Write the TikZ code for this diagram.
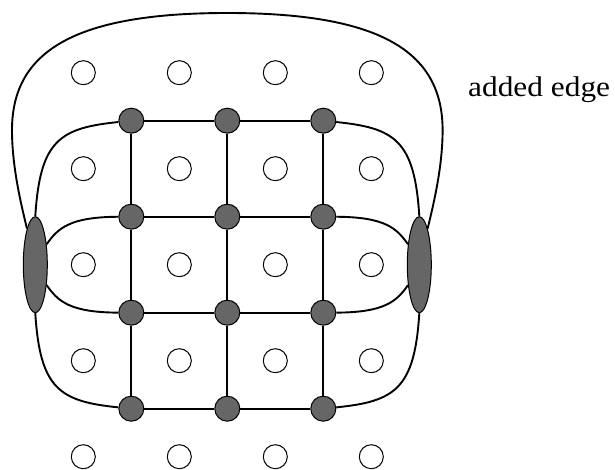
\documentclass[tikz,border=0pt]{standalone}
\usepackage{fontspec}
\setmainfont{Liberation Serif}
\usetikzlibrary{shapes.geometric}
\definecolor{nodegray}{RGB}{102,102,102}
\begin{document}
\begin{tikzpicture}[x=1pt,y=-1pt,
  emptynode/.style={circle,draw=black,line width=1pt,fill=white,minimum size=24pt,inner sep=0pt},
  fullnode/.style={circle,draw=black,line width=1pt,fill=nodegray,minimum size=25pt,inner sep=0pt},
  bignode/.style={ellipse,draw=black,line width=1pt,fill=nodegray,minimum width=24pt,minimum height=96pt,inner sep=0pt},
  edgeline/.style={line width=1.9pt,black}]
\useasboundingbox (0,0) rectangle (615,470);
% empty circles
\foreach \i in {0,...,3}{
  \foreach \j in {0,...,4}{
    \node[emptynode] (e\i\j) at ({83.3+96*\i},{72.7+96*\j}) {};
  }
}
% filled grid nodes
\foreach \i in {1,2,3}{
  \foreach \j in {1,...,4}{
    \node[fullnode] (f\i\j) at ({35.3+96*\i},{24.7+96*\j}) {};
  }
}
% ellipse nodes
\node[bignode] (L) at (35.3,264.7) {};
\node[bignode] (R) at (419.3,264.7) {};
% grid edges
\foreach \j in {1,...,4}{
  \draw[edgeline] (f1\j) -- (f2\j);
  \draw[edgeline] (f2\j) -- (f3\j);
}
\foreach \i in {1,2,3}{
  \draw[edgeline] (f\i1) -- (f\i2);
  \draw[edgeline] (f\i2) -- (f\i3);
  \draw[edgeline] (f\i3) -- (f\i4);
}
% curves to left ellipse
\draw[edgeline] (f11) .. controls (60,128) and (40,140) .. (L.north);
\draw[edgeline] (f12) .. controls (70,217) and (58,228) .. (L.61);
\draw[edgeline] (f13) .. controls (70,312.4) and (58,301.4) .. (L.-61);
\draw[edgeline] (f14) .. controls (60,401.4) and (40,389.4) .. (L.south);
% curves to right ellipse
\draw[edgeline] (f31) .. controls (394.6,128) and (414.6,140) .. (R.north);
\draw[edgeline] (f32) .. controls (384.6,217) and (396.6,228) .. (R.119);
\draw[edgeline] (f33) .. controls (384.6,312.4) and (396.6,301.4) .. (R.-119);
\draw[edgeline] (f34) .. controls (394.6,401.4) and (414.6,389.4) .. (R.south);
% added edge
\draw[edgeline] (L.103) .. controls (20,200) and (12,165) .. (12,130)
  .. controls (12,50) and (77,13) .. (227.3,13)
  .. controls (377.6,13) and (442.6,50) .. (442.6,130)
  .. controls (442.6,165) and (434.6,200) .. (R.77);
\node[anchor=base west,inner sep=0pt] (lbl) at (468,96.7)
  {\fontsize{28.5}{30}\selectfont\scalebox{1.1}[1]{added edge}};
\end{tikzpicture}
\end{document}
